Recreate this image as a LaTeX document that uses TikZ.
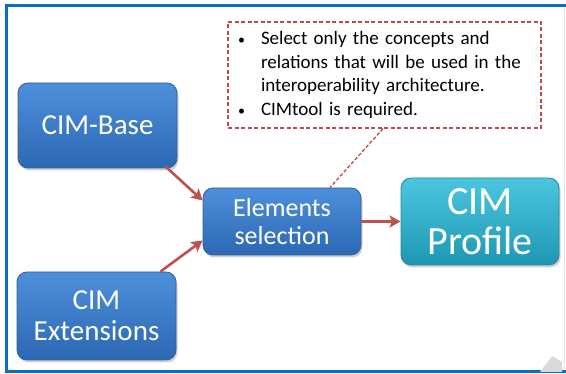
\documentclass[tikz,border=0pt]{standalone}
\usepackage{fontspec}
\setmainfont{Carlito}
\usetikzlibrary{arrows.meta,shadows,calc}
\definecolor{frameblue}{HTML}{0A6FC2}
\definecolor{boxtop}{HTML}{4E8FDB}
\definecolor{boxbot}{HTML}{2C68B3}
\definecolor{boxline}{HTML}{2F5F9E}
\definecolor{proftop}{HTML}{4CC6DE}
\definecolor{profbot}{HTML}{1F97B4}
\definecolor{profline}{HTML}{2389A3}
\definecolor{arrowred}{HTML}{C0504D}
\definecolor{notered}{HTML}{BE4B4B}
\tikzset{
  x=1pt, y=-1pt,
  bluebox/.style={rounded corners=10pt, draw=boxline, line width=0.8pt,
    top color=boxtop, bottom color=boxbot, text=white, align=center,
    drop shadow={opacity=0.35, shadow xshift=1.5pt, shadow yshift=-2.5pt}},
  profbox/.style={bluebox, draw=profline, top color=proftop, bottom color=profbot},
  note/.style={draw=notered, dashed, dash pattern=on 4pt off 2.5pt, line width=1.3pt, fill=white, align=left},
  flow/.style={draw=arrowred, line width=2.6pt, -{Stealth[length=11pt,width=12pt,inset=2.5pt]}},
  link/.style={draw=notered, dashed, dash pattern=on 3.5pt off 2pt, line width=1.3pt}
}
\begin{document}
\begin{tikzpicture}
\useasboundingbox (0,0) rectangle (566,374);
\fill[white] (0,0) rectangle (566,374);
% frame
\draw[frameblue, line width=3pt] (566,6) -- (6,6) -- (6,372) -- (566,372);
\draw[black!10, line width=0.8pt] (564,8) -- (564,370);
\fill[black!15] (540,372) -- (552,356) -- (562,362) -- (562,372) -- cycle;
% nodes
\node[bluebox, minimum width=159pt, minimum height=85pt, font=\fontsize{29}{31}\selectfont] (base) at (97.5,125.5) {CIM-Base};
\node[bluebox, minimum width=159pt, minimum height=88pt, font=\fontsize{29}{31}\selectfont] (ext) at (96.5,316) {CIM\\Extensions};
\node[bluebox, minimum width=158pt, minimum height=67pt, font=\fontsize{26}{28}\selectfont] (sel) at (282,221.5) {Elements\\selection};
\node[profbox, minimum width=158pt, minimum height=87pt, font=\fontsize{40}{40}\selectfont] (prof) at (480,221.5) {CIM\\Profile};
\node[note, minimum width=313pt, minimum height=106pt, text width=299pt, inner xsep=7pt, font=\fontsize{19}{23.5}\selectfont] (note) at (384.5,75)
 {\makebox[26pt][l]{\hspace{3pt}\fontsize{14}{14}\selectfont•}Select only the concepts and\\
  \hspace*{26pt}relations that will be used in the\\
  \hspace*{26pt}interoperability architecture.\\
  \makebox[26pt][l]{\hspace{3pt}\fontsize{14}{14}\selectfont•}CIMtool is required.};
% connectors
\draw[flow] ([xshift=-12pt,yshift=2pt]base.south east) -- ([yshift=21pt]sel.west);
\draw[flow] ([xshift=-16pt]ext.north east) -- ([yshift=-19pt]sel.west);
\draw[flow] (sel.east) -- (prof.west);
\draw[link] ([xshift=-1.5pt]note.south) -- ([xshift=48pt]sel.north);
\end{tikzpicture}
\end{document}
